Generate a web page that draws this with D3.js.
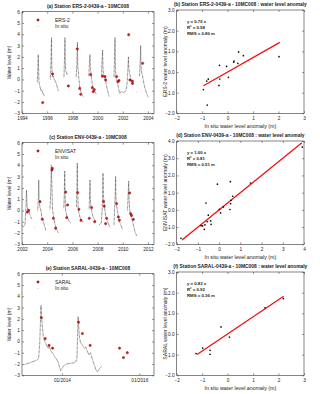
<!DOCTYPE html>
<html>
<head>
<meta charset="utf-8">
<script src="https://cdn.jsdelivr.net/npm/d3@7"></script>
<style>
body { margin: 0; background: #fff; }
svg { display: block; font-family: "Liberation Sans", Arial, sans-serif; }
</style>
</head>
<body>
<svg id="chart" width="320" height="394"></svg>
<script>
// ---- data ----
// in situ level, one array per season: [decimal year, metres]
let ersInsitu = [
  [[1995.22,-0.2],[1995.26,1.0],[1995.29,2.2],[1995.32,0.8],[1995.35,-0.3],[1995.42,-0.6],[1995.5,-1.0],[1995.58,-0.9],[1995.65,-1.2],[1995.75,-1.4],[1995.82,-1.5]],
  [[1996.25,0.0],[1996.3,1.5],[1996.34,3.7],[1996.37,1.0],[1996.4,0.5],[1996.45,0.2],[1996.5,0.3],[1996.55,0.0],[1996.62,-0.1],[1996.7,-0.3],[1996.78,-0.6],[1996.88,-1.0]],
  [[1997.33,0.2],[1997.38,2.0],[1997.41,3.7],[1997.44,1.5],[1997.47,0.8],[1997.52,0.6],[1997.58,0.4],[1997.62,0.5]],
  [[1998.3,0.2],[1998.36,1.5],[1998.4,3.3],[1998.43,1.0],[1998.47,0.8],[1998.52,0.0],[1998.58,-0.6],[1998.65,-1.0],[1998.72,-1.2],[1998.8,-1.4],[1998.87,-1.5]],
  [[1999.3,0.3],[1999.36,1.5],[1999.4,2.2],[1999.43,1.0],[1999.47,0.6],[1999.52,0.2],[1999.58,-0.4],[1999.65,-0.8],[1999.72,-1.0],[1999.8,-1.1],[1999.9,-1.3]],
  [[2000.3,0.2],[2000.35,1.5],[2000.4,2.6],[2000.43,1.0],[2000.47,0.4],[2000.55,0.3],[2000.62,0.0],[2000.7,-0.5],[2000.78,-0.9],[2000.86,-1.3],[2000.93,-1.5]],
  [[2001.3,0.2],[2001.34,1.5],[2001.38,3.7],[2001.41,1.5],[2001.45,0.3],[2001.5,0.0],[2001.58,-0.3],[2001.65,-0.7],[2001.72,-1.1],[2001.78,-1.25],[2001.85,-1.1],[2001.95,-1.1],[2002.05,-1.15],[2002.15,-1.1],[2002.25,-1.0],[2002.32,-0.6],[2002.38,0.3],[2002.42,1.2],[2002.45,2.0],[2002.48,1.0],[2002.52,0.7],[2002.58,0.4],[2002.65,0.0],[2002.72,-0.3],[2002.8,-0.5]],
  [[2003.08,-1.1],[2003.1,-1.1]],
  [[2003.33,0.3],[2003.38,1.5],[2003.42,3.0],[2003.46,1.0],[2003.5,0.6],[2003.57,0.3],[2003.65,-0.2],[2003.72,-0.6],[2003.8,-0.9],[2003.88,-1.2],[2003.97,-1.5],[2004.03,-1.6]]
]
let ersAlt = [[1995.64,-2.05],[1996.43,0.48],[1997.68,-0.58],[1998.39,2.7],[1998.58,-0.8],[1998.66,-1.32],
  [1999.45,0.42],[1999.58,-0.73],[1999.66,-1.08],[1999.74,-0.9],[2000.4,0.28],[2000.59,0.25],[2000.64,-0.05],
  [2001.51,0.25],[2001.62,-0.2],[2001.7,-0.1],[2002.47,3.96],[2002.57,-0.05],[2002.76,-0.15],[2002.78,-0.35],[2003.58,1.43]]

let envInsitu = [
  [[2002.0,-1.35],[2002.08,-1.45],[2002.16,-1.4],[2002.24,-1.2],[2002.3,0.0],[2002.36,1.8],[2002.4,0.5],[2002.45,0.0],[2002.52,0.1],[2002.6,-0.3],[2002.68,-0.5],[2002.77,-0.8]],
  [[2003.0,-1.5],[2003.02,-1.5]],
  [[2003.25,0.0],[2003.3,1.2],[2003.33,2.7],[2003.36,1.0],[2003.42,0.3],[2003.5,0.0],[2003.57,-0.5],[2003.64,-0.8],[2003.72,-1.1],[2003.8,-1.4],[2003.9,-1.8]],
  [[2004.22,0.1],[2004.28,1.5],[2004.33,4.0],[2004.38,2.0],[2004.42,0.2],[2004.48,-0.4],[2004.55,-0.8],[2004.62,-1.2],[2004.7,-1.5],[2004.8,-1.8],[2004.9,-2.0]],
  [[2005.32,0.2],[2005.36,1.5],[2005.39,3.5],[2005.42,1.5],[2005.46,0.0],[2005.52,-0.3],[2005.6,-0.6],[2005.68,-0.8],[2005.76,-1.0],[2005.86,-1.1]],
  [[2006.32,0.3],[2006.36,2.0],[2006.39,4.2],[2006.42,1.8],[2006.46,0.2],[2006.52,-0.2],[2006.6,-0.6],[2006.7,-0.85],[2006.8,-1.0],[2006.87,-1.0]],
  [[2007.33,0.1],[2007.37,1.5],[2007.4,2.7],[2007.43,1.0],[2007.47,0.3],[2007.52,0.0],[2007.6,-0.4],[2007.7,-0.7],[2007.8,-0.9],[2007.9,-1.0]],
  [[2008.15,-1.25],[2008.22,-1.2],[2008.3,-1.1],[2008.36,0.0],[2008.4,1.5],[2008.43,3.3],[2008.46,1.5],[2008.5,0.7],[2008.56,0.2],[2008.62,-0.3],[2008.7,-0.7],[2008.8,-1.0],[2008.9,-1.3],[2008.98,-1.5]],
  [[2009.3,-1.3],[2009.36,0.3],[2009.4,1.5],[2009.43,3.0],[2009.46,1.2],[2009.5,0.5],[2009.57,0.0],[2009.65,-0.5],[2009.75,-1.0],[2009.85,-1.3],[2009.95,-1.6],[2010.0,-1.7]],
  [[2010.38,0.0],[2010.43,1.5],[2010.47,2.6],[2010.5,1.2],[2010.54,0.2],[2010.6,-0.3],[2010.68,-0.6],[2010.76,-0.9],[2010.85,-1.3],[2010.95,-1.8],[2011.05,-2.1],[2011.1,-2.3]]
]
let envAlt = [[2002.42,-0.15],[2002.53,0.0],[2003.43,0.78],[2003.61,-0.78],[2004.38,3.58],[2004.41,3.73],[2004.49,-0.7],[2004.67,-1.58],
  [2005.47,1.63],[2005.55,-0.64],[2005.62,0.48],[2006.42,1.58],[2006.52,0.1],[2006.68,-0.87],[2007.34,-0.7],[2007.53,0.25],[2007.77,-1.0],
  [2008.48,0.78],[2008.53,0.37],[2008.64,-1.17],[2008.72,-0.7],[2009.51,0.6],[2009.65,-0.58],[2009.73,-0.87],
  [2010.54,1.55],[2010.62,-0.28],[2010.7,-0.45],[2010.84,-0.8]]

let saralInsitu = [
  [[2013.04,-2.05],[2013.12,-1.95],[2013.2,-1.85],[2013.28,-1.75],[2013.36,-1.65],[2013.4,-1.5],[2013.43,0.0],[2013.46,3.2],[2013.49,1.5],[2013.52,0.4],
   [2013.56,0.0],[2013.6,-0.3],[2013.64,-0.6],[2013.68,-0.5],[2013.72,-0.9],[2013.76,-1.0],[2013.8,-1.3],[2013.85,-1.5],[2013.9,-1.8],[2013.94,-2.3],
   [2013.97,-2.6],[2014.0,-2.4],[2014.05,-2.15],[2014.12,-2.0],[2014.2,-1.95],[2014.3,-1.9],[2014.36,-1.8],[2014.39,-1.5],[2014.42,2.2],[2014.45,0.5],
   [2014.48,-0.1],[2014.53,-0.3],[2014.58,-0.6],[2014.62,-0.5],[2014.66,-0.9],[2014.7,-1.2],[2014.74,-1.0],[2014.78,-1.5],[2014.83,-2.0],[2014.88,-2.5],
   [2014.92,-2.7],[2014.97,-2.4],[2015.03,-2.2]]
]
let saralAlt = [[2013.47,2.1],[2013.57,0.25],[2013.67,-0.35],[2013.76,-0.6],[2014.43,1.7],[2014.53,0.7],[2014.73,-0.35],
  [2015.49,-0.6],[2015.59,-1.43],[2015.69,-1.0]]

// anomaly scatter: [in situ, altimetry]
let ersAnom = [[-0.95,-0.85],[-0.82,-0.44],[-0.76,-0.35],[-0.8,-1.6],[-0.32,0.32],[-0.34,-0.65],[-0.31,-0.34],
  [-0.04,0.27],[0.03,-0.26],[0.24,0.47],[0.25,0.53],[0.4,0.42],[0.43,0.97],[0.62,0.79],[2.02,0.74]]
let envAnom = [[-1.8,-1.65],[-0.85,-0.92],[-0.78,-0.93],[-0.67,-0.87],[-0.7,-1.13],[-0.56,-0.68],[-0.51,-0.31],[-0.4,-0.64],
  [-0.38,-0.84],[-0.62,0.4],[-0.08,1.49],[0.01,0.03],[0.07,-0.18],[0.2,0.17],[0.51,0.02],[0.53,1.64],[0.54,0.36],
  [0.56,0.56],[0.64,0.79],[1.48,1.56],[3.92,3.65]]
let saralAnom = [[-1.24,-0.95],[-0.98,-0.68],[-0.69,-0.79],[-0.69,-0.98],[-0.26,0.34],[0.07,-0.15],[1.47,1.27],[2.19,1.71]]

// fits: slope and x range of the red line
let ersFit = [0.70, -0.95, 2.05]
let envFit = [1.00, -1.75, 3.9]
let saralFit = [0.83, -1.2, 2.2]
let ersStats = ['y = 0.70 x', 'R² = 0.58', 'RMS = 0.80 m']
let envStats = ['y = 1.00 x', 'R² = 0.81', 'RMS = 0.51 m']
let saralStats = ['y = 0.83 x', 'R² = 0.92', 'RMS = 0.36 m']

// tick labels
let levelTicks = [-3,-2,-1,0,1,2,3,4,5,6]
let ersYears = [1994,1996,1998,2000,2002,2004]
let envYears = [2002,2004,2006,2008,2010,2012]
let saralTicks = [2014,2016]
let saralTickLabels = ['01/2014','01/2016']

let svg = d3.select('#chart')

let box = (g, l, r, t, b) => {
  g.append('rect')
   .attr('x', l).attr('y', t)
   .attr('width', r - l).attr('height', b - t)
   .attr('fill', 'none').attr('stroke', '#333').attr('stroke-width', 0.6)
}

// matlab-like axes: ticks inside on all four sides, labels left and bottom
let axes = (g, x, y, xTicks, yTicks, xFmt, l, r, t, b) => {
  let sides = [
    [d3.axisBottom(x).tickValues(xTicks).tickFormat(xFmt), b, 'x'],
    [d3.axisTop(x).tickValues(xTicks).tickFormat(''), t, 'x'],
    [d3.axisLeft(y).tickValues(yTicks), l, 'y'],
    [d3.axisRight(y).tickValues(yTicks).tickFormat(''), r, 'y']
  ]
  sides.forEach(([ax, pos, dir]) => {
    let a = g.append('g')
      .attr('transform', dir === 'x' ? 'translate(0,' + pos + ')' : 'translate(' + pos + ',0)')
      .call(ax.tickSize(-2).tickPadding(dir === 'x' ? 3 : 2.2))
    a.select('.domain').remove()
    a.selectAll('line').attr('stroke', '#333').attr('stroke-width', 0.5)
    a.selectAll('text').attr('font-size', 4.7).attr('fill', '#222').attr('font-family', '"Liberation Sans", Arial, sans-serif')
  })
}

let redMark = (sel) => sel
  .attr('r', 1.15)
  .attr('fill', '#e01a1a')
  .attr('stroke', '#700000')
  .attr('stroke-width', 0.45)

let timePanel = (p) => {
  let g = svg.append('g')
  let x = d3.scaleLinear().domain(p.xDomain).range([p.l, p.r])
  let y = d3.scaleLinear().domain([-3, 6]).range([p.b, p.t])

  let line = d3.line().x(d => x(d[0])).y(d => y(d[1]))
  g.selectAll('path.insitu')
   .data(p.insitu)
   .enter()
   .append('path')
   .attr('class', 'insitu')
   .attr('d', line)
   .attr('fill', 'none')
   .attr('stroke', '#383838')
   .attr('stroke-width', 0.9)
   .attr('stroke-dasharray', '0.6,0.7')

  g.selectAll('circle.alt')
   .data(p.alt)
   .enter()
   .append('circle')
   .attr('class', 'alt')
   .attr('cx', d => x(d[0]))
   .attr('cy', d => y(d[1]))
   .call(redMark)

  box(g, p.l, p.r, p.t, p.b)
  axes(g, x, y, p.xTicks, levelTicks, p.xFmt, p.l, p.r, p.t, p.b)

  // legend
  g.append('circle').attr('cx', p.l + 16).attr('cy', p.t + 8.3).call(redMark)
  g.append('circle').attr('cx', p.l + 16).attr('cy', p.t + 15).attr('r', 0.4).attr('fill', '#777')
  g.append('text').attr('x', p.l + 33).attr('y', p.t + 10).attr('font-size', 5).attr('fill', '#222').text(p.name)
  g.append('text').attr('x', p.l + 33).attr('y', p.t + 16.6).attr('font-size', 5).attr('fill', '#222').text('In situ')

  g.append('text')
   .attr('x', (p.l + p.r) / 2).attr('y', p.t - 4.2)
   .attr('text-anchor', 'middle').attr('font-size', 4.9).attr('font-weight', 'bold').attr('fill', '#222')
   .text(p.title)
  g.append('text')
   .attr('transform', 'translate(' + (p.l - 11.2) + ',' + ((p.t + p.b) / 2) + ') rotate(-90)')
   .attr('text-anchor', 'middle').attr('font-size', 5).attr('fill', '#222')
   .text('Water level (m)')
}

let scatterPanel = (p) => {
  let g = svg.append('g')
  let x = d3.scaleLinear().domain(p.domain).range([p.l, p.r])
  let y = d3.scaleLinear().domain(p.domain).range([p.b, p.t])

  g.append('line')
   .attr('x1', x(p.fit[1])).attr('y1', y(p.fit[0] * p.fit[1]))
   .attr('x2', x(p.fit[2])).attr('y2', y(p.fit[0] * p.fit[2]))
   .attr('stroke', '#f01010').attr('stroke-width', 1.3)

  g.selectAll('circle.pt')
   .data(p.points)
   .enter()
   .append('circle')
   .attr('class', 'pt')
   .attr('cx', d => x(d[0]))
   .attr('cy', d => y(d[1]))
   .attr('r', 0.85)
   .attr('fill', '#111')

  box(g, p.l, p.r, p.t, p.b)
  axes(g, x, y, p.ticks, p.ticks, d3.format('d'), p.l, p.r, p.t, p.b)

  g.selectAll('text.stat')
   .data(p.stats)
   .enter()
   .append('text')
   .attr('class', 'stat')
   .attr('x', p.l + 10.3)
   .attr('y', (d, i) => p.t + 13.2 + i * 5.8)
   .attr('font-size', 4.3).attr('font-weight', 'bold').attr('fill', '#222')
   .text(d => d)

  g.append('text')
   .attr('x', (p.l + p.r) / 2).attr('y', p.t - 4.3)
   .attr('text-anchor', 'middle').attr('font-size', 4.9).attr('font-weight', 'bold').attr('fill', '#222')
   .text(p.title)
  g.append('text')
   .attr('x', (p.l + p.r) / 2).attr('y', p.b + 14.5)
   .attr('text-anchor', 'middle').attr('font-size', 5.3).attr('fill', '#222')
   .text('In situ water level anomaly (m)')
  g.append('text')
   .attr('transform', 'translate(' + (p.l - 10.2) + ',' + ((p.t + p.b) / 2) + ') rotate(-90)')
   .attr('text-anchor', 'middle').attr('font-size', 5.1).attr('fill', '#222')
   .text(p.yLabel)
}

timePanel({l: 22, r: 154, t: 11.7, b: 113.3, xDomain: [1994, 2004.48], xTicks: ersYears, xFmt: d3.format('d'),
  insitu: ersInsitu, alt: ersAlt, name: 'ERS-2', title: '(a) Station ERS-2-0439-a - 10MC008'})
timePanel({l: 22, r: 154, t: 142.7, b: 244.3, xDomain: [2002, 2012.48], xTicks: envYears, xFmt: d3.format('d'),
  insitu: envInsitu, alt: envAlt, name: 'ENVISAT', title: '(c) Station ENV-0439-a - 10MC008'})
timePanel({l: 22, r: 154, t: 273.7, b: 375.3, xDomain: [2012.97, 2016.38], xTicks: saralTicks,
  xFmt: (d, i) => saralTickLabels[i],
  insitu: saralInsitu, alt: saralAlt, name: 'SARAL', title: '(e) Station SARAL-0439-a - 10MC008'})

scatterPanel({l: 176.7, r: 304, t: 10, b: 113.3, domain: [-2, 3], ticks: [-2,-1,0,1,2,3],
  points: ersAnom, fit: ersFit, stats: ersStats, yLabel: 'ERS-2 water level anomaly (m)',
  title: '(b) Station ERS-2-0439-a - 10MC008 : water level anomaly'})
scatterPanel({l: 176.7, r: 304, t: 141, b: 244.3, domain: [-2, 4], ticks: [-2,-1,0,1,2,3,4],
  points: envAnom, fit: envFit, stats: envStats, yLabel: 'ENVISAT water level anomaly (m)',
  title: '(d) Station ENV-0439-a - 10MC008 : water level anomaly'})
scatterPanel({l: 176.7, r: 304, t: 272, b: 375.3, domain: [-2, 3], ticks: [-2,-1,0,1,2,3],
  points: saralAnom, fit: saralFit, stats: saralStats, yLabel: 'SARAL water level anomaly (m)',
  title: '(f) Station SARAL-0439-a - 10MC008 : water level anomaly'})
</script>
</body>
</html>
